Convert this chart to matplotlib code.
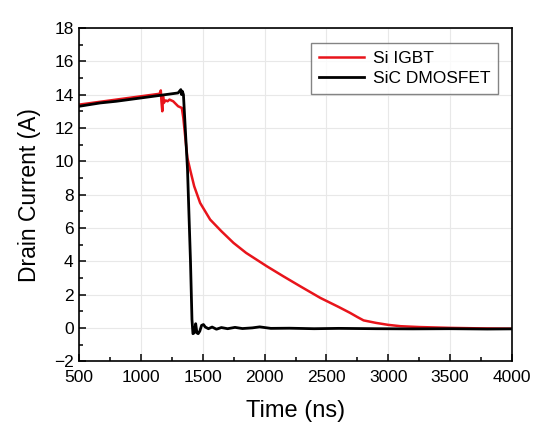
import matplotlib.pyplot as plt

plt.rcParams['font.family'] = ['Liberation Sans', 'DejaVu Sans']

# Si IGBT trace
t_igbt = [500, 800, 1000, 1100, 1150, 1160, 1165, 1172, 1178, 1185, 1192, 1200, 1215, 1230,
          1260, 1300, 1330, 1342, 1357, 1375, 1397, 1430, 1478, 1559, 1650, 1748, 1850,
          2017, 2150, 2287, 2450, 2600, 2691, 2750, 2800, 2900, 3000, 3100, 3250, 3500,
          3750, 4000]
i_igbt = [13.4, 13.7, 13.9, 14.0, 14.05, 14.25, 13.6, 13.0, 13.9, 13.5, 13.6, 13.65, 13.6, 13.7,
          13.6, 13.3, 13.2, 12.6, 11.5, 10.2, 9.5, 8.5, 7.5, 6.5, 5.8, 5.1, 4.5,
          3.7, 3.1, 2.5, 1.8, 1.25, 0.9, 0.65, 0.45, 0.3, 0.18, 0.1, 0.05, 0.0,
          -0.03, -0.05]

# SiC DMOSFET trace
t_sic = [500, 670, 800, 1000, 1200, 1300, 1322, 1328, 1334, 1343, 1376, 1400, 1412, 1420,
         1430, 1442, 1452, 1462, 1475, 1490, 1505, 1520, 1545, 1575, 1610, 1650, 1700,
         1760, 1820, 1900, 1960, 2050, 2200, 2400, 2600, 2900, 3200, 3500, 3800, 4000]
i_sic = [13.3, 13.5, 13.6, 13.8, 14.0, 14.1, 14.3, 14.0, 14.2, 14.0, 9.5, 4.0, 0.5, -0.35,
         -0.3, 0.25, -0.3, -0.35, -0.2, 0.15, 0.2, 0.05, -0.05, 0.05, -0.08, 0.02, -0.05,
         0.03, -0.04, 0.0, 0.06, -0.03, -0.02, -0.05, -0.03, -0.05, -0.06, -0.05, -0.07, -0.06]

fig, ax = plt.subplots(figsize=(5.54, 4.30), dpi=100)
fig.subplots_adjust(left=0.143, right=0.924, top=0.935, bottom=0.160)

ax.plot(t_igbt, i_igbt, color='#e8141b', lw=1.8, label='Si IGBT')
ax.plot(t_sic, i_sic, color='black', lw=2.0, label='SiC DMOSFET')

ax.set_xlim(500, 4000)
ax.set_ylim(-2, 18)
ax.set_xticks(range(500, 4001, 500))
ax.set_yticks(range(-2, 19, 2))
ax.set_xticks(range(750, 4000, 500), minor=True)
ax.set_yticks(range(-1, 18, 2), minor=True)
ax.grid(True, color='#e8e8e8', lw=0.8)
ax.set_axisbelow(True)
ax.tick_params(which='both', direction='in', labelsize=12.5)
ax.tick_params(which='major', length=5, width=1.1, pad=4)
ax.tick_params(axis='x', which='major', pad=6)
ax.tick_params(which='minor', length=3, width=1.1)
for s in ax.spines.values():
    s.set_linewidth(1.2)

ax.set_xlabel('Time (ns)', fontsize=17, labelpad=11)
ax.set_ylabel('Drain Current (A)', fontsize=16.5, labelpad=9)

leg = ax.legend(loc='upper right', fontsize=12.5, fancybox=False, edgecolor='#666666',
                handlelength=2.6, borderpad=0.45, labelspacing=0.3, handletextpad=0.5,
                borderaxespad=0, bbox_to_anchor=(0.968, 0.955))
leg.get_frame().set_linewidth(1.0)

fig.savefig('out.png', dpi=100)
